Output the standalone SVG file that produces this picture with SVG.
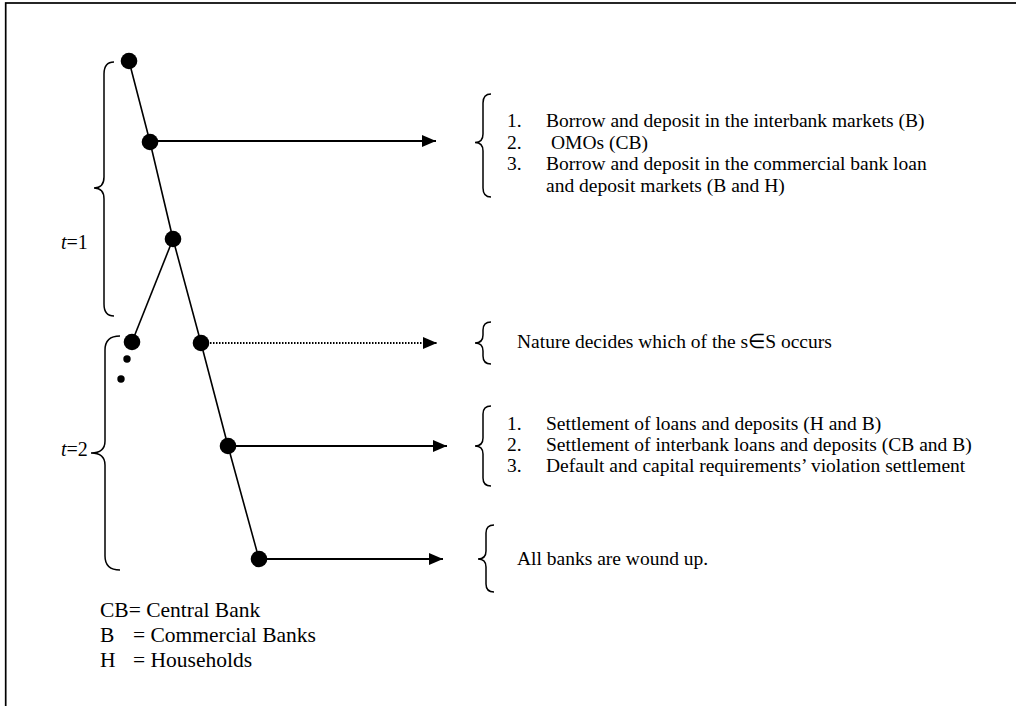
<svg xmlns="http://www.w3.org/2000/svg" width="1016" height="706" viewBox="0 0 1016 706">
<style>
text{font-family:"Liberation Serif","Times New Roman",serif;font-size:19.5px;fill:#000}
.leg{font-size:21.5px}
.tl{font-size:20px}
.node{fill:#000}
.edge{stroke:#000;stroke-width:1.6;fill:none}
.arr{stroke:#000;stroke-width:2;fill:none}
.dot{stroke:#000;stroke-width:2;fill:none;stroke-dasharray:1.5 1.5}
.brace{stroke:#000;stroke-width:1.5;fill:none}
</style>
<defs>
<marker id="ah" markerUnits="userSpaceOnUse" markerWidth="15" markerHeight="14" refX="14" refY="7" orient="auto">
<path d="M0,1 L14,7 L0,13 Z" fill="#000"/>
</marker>
</defs>
<rect x="5.7" y="3" width="1100" height="800" fill="#fff" stroke="#000" stroke-width="1.7"/>

<g id="connectors">
<path class="edge" d="M129,61 L150,142 L173,239"/>
<path class="edge" d="M173,239 L132,342"/>
<path class="edge" d="M173,239 L201,343 L228,446 L259,559"/>
<line class="arr" x1="150" y1="141" x2="436" y2="141" marker-end="url(#ah)"/>
<line class="dot" x1="201" y1="343" x2="437" y2="343" marker-end="url(#ah)"/>
<line class="arr" x1="228" y1="446" x2="447" y2="446" marker-end="url(#ah)"/>
<line class="arr" x1="259" y1="559" x2="443" y2="559" marker-end="url(#ah)"/>
</g>

<g id="n1"><circle class="node" cx="129" cy="61" r="8.3"/></g>
<g id="n2"><circle class="node" cx="150" cy="142" r="8.3"/></g>
<g id="n3"><circle class="node" cx="173" cy="239" r="8.3"/></g>
<g id="n4"><circle class="node" cx="132" cy="342" r="8.3"/><circle class="node" cx="127" cy="359" r="3.7"/><circle class="node" cx="121" cy="379" r="3.7"/></g>
<g id="n5"><circle class="node" cx="201" cy="343" r="8.3"/></g>
<g id="n6"><circle class="node" cx="228" cy="446" r="8.3"/></g>
<g id="n7"><circle class="node" cx="259" cy="559" r="8.3"/></g>

<g id="t1">
<path class="brace" d="M114,62 Q104,62 104,74 L104,177 Q104,188 94,188 Q104,188 104,199 L104,304 Q104,316 114,316"/>
<text class="tl" x="61" y="249"><tspan font-style="italic">t</tspan>=1</text>
</g>
<g id="t2">
<path class="brace" d="M120,336 Q105,336 105,350 L105,441 Q105,453 91,453 Q105,453 105,465 L105,556 Q105,570 120,570"/>
<text class="tl" x="61" y="456"><tspan font-style="italic">t</tspan>=2</text>
</g>

<g id="stage1">
<path class="brace" d="M491,94 Q483,94 483,103 L483,134 Q483,142.5 475,142.5 Q483,142.5 483,151 L483,188 Q483,197 491,197"/>
<text x="507" y="127">1.</text><text x="546" y="127">Borrow and deposit in the interbank markets (B)</text>
<text x="507" y="148.5">2.</text><text x="551" y="148.5">OMOs (CB)</text>
<text x="507" y="170">3.</text><text x="546" y="170">Borrow and deposit in the commercial bank loan</text>
<text x="546" y="191.5">and deposit markets (B and H)</text>
</g>

<g id="nature">
<path class="brace" d="M491,322 Q483,322 483,330 L483,335 Q483,343 475,343 Q483,343 483,351 L483,356 Q483,364 491,364"/>
<text x="517" y="347.5">Nature decides which of the s∈S occurs</text>
</g>

<g id="stage2">
<path class="brace" d="M491,406 Q483,406 483,414 L483,438 Q483,446 475,446 Q483,446 483,454 L483,478 Q483,486 491,486"/>
<text x="507" y="429.5">1.</text><text x="546" y="429.5">Settlement of loans and deposits (H and B)</text>
<text x="507" y="450.5">2.</text><text x="546" y="450.5">Settlement of interbank loans and deposits (CB and B)</text>
<text x="507" y="471.5">3.</text><text x="546" y="471.5">Default and capital requirements’ violation settlement</text>
</g>

<g id="final">
<path class="brace" d="M494,525 Q486,525 486,533 L486,551 Q486,559 478,559 Q486,559 486,567 L486,584 Q486,592 494,592"/>
<text x="517" y="565">All banks are wound up.</text>
</g>

<g id="legend">
<text class="leg" x="100" y="617">CB= Central Bank</text>
<text class="leg" x="100" y="642">B</text><text class="leg" x="133" y="642">= Commercial Banks</text>
<text class="leg" x="100" y="667">H</text><text class="leg" x="133" y="667">= Households</text>
</g>
</svg>
